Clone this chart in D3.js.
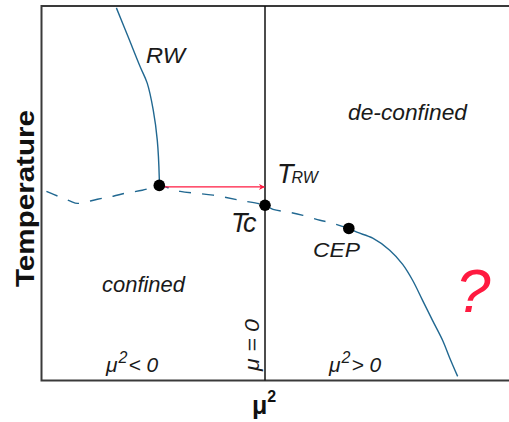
<!DOCTYPE html>
<html>
<head>
<meta charset="utf-8">
<script src="https://cdn.jsdelivr.net/npm/d3@7"></script>
<style>
  html, body { margin: 0; padding: 0; background: #fff; }
  svg { display: block; }
  text { font-family: "Liberation Sans", Arial, sans-serif; }
</style>
</head>
<body>
<svg id="chart" width="509" height="422"></svg>
<script>
// Phase diagram: temperature vs mu^2 (schematic units)
// Roberge-Weiss line (upper left)
const rwLineMu2  = [-0.665, -0.612, -0.558, -0.527, -0.500, -0.482, -0.473, -0.473];
const rwLineT    = [ 0.995,  0.917,  0.837,  0.794,  0.722,  0.642,  0.540,  0.521];

// Crossover (dashed) from the left edge through Tc to the critical end point
const crossMu2 = [-0.978, -0.946, -0.871, -0.839, -0.750, -0.679, -0.625, -0.549, -0.500, -0.473,
                  -0.424, -0.379, -0.232, -0.112, 0.000, 0.036, 0.112, 0.170, 0.246, 0.290, 0.375];
const crossT   = [ 0.505,  0.497,  0.479,  0.473,  0.484,  0.492,  0.500,  0.508,  0.516,  0.521,
                   0.513,  0.505,  0.495,  0.481, 0.468, 0.457, 0.449, 0.441, 0.428, 0.422, 0.406];

// First-order line beyond the CEP
const firstMu2 = [0.375, 0.411, 0.482, 0.558, 0.616, 0.661, 0.705, 0.750, 0.795, 0.826, 0.862];
const firstT   = [0.406, 0.396, 0.380, 0.348, 0.310, 0.267, 0.214, 0.160, 0.107, 0.061, 0.011];

// Marked points
const pointNames = ["RW endpoint", "Tc", "CEP"];
const pointMu2   = [-0.473, 0.000, 0.375];
const pointT     = [ 0.521, 0.468, 0.406];

// Arrow from the RW endpoint to T_RW on the mu = 0 axis
const arrowMu2 = [-0.463, -0.003];
const arrowT   = [ 0.517,  0.517];

const svg = d3.select("#chart");
const margin = { left: 41.5, top: 6, bottom: 41.5 };
const W = 509, H = 422;

const x = d3.scaleLinear().domain([-1, 1]).range([margin.left, 488.5]);
const y = d3.scaleLinear().domain([0, 1]).range([H - margin.bottom, margin.top]);

const blue = "#216891";
const red = "#ff1a40";

// Frame (left, top, bottom)
const frame = d3.path();
frame.moveTo(W + 2, y(1)); frame.lineTo(x(-1), y(1));
frame.lineTo(x(-1), y(0)); frame.lineTo(W + 2, y(0));
svg.append("path").attr("d", frame.toString())
  .attr("fill", "none").attr("stroke", "#3a3a3a").attr("stroke-width", 2);

// mu = 0 axis
svg.append("line")
  .attr("x1", x(0)).attr("x2", x(0))
  .attr("y1", y(1)).attr("y2", y(0))
  .attr("stroke", "#111").attr("stroke-width", 1.5);

const line = d3.line()
  .x(d => x(d[0])).y(d => y(d[1]))
  .curve(d3.curveCatmullRom.alpha(0.5));

svg.append("path")
  .datum(d3.zip(rwLineMu2, rwLineT))
  .attr("d", line)
  .attr("fill", "none").attr("stroke", blue).attr("stroke-width", 1.4);

svg.append("path")
  .datum(d3.zip(crossMu2, crossT))
  .attr("d", line)
  .attr("fill", "none").attr("stroke", blue).attr("stroke-width", 1.4)
  .attr("stroke-dasharray", "12,11");

svg.append("path")
  .datum(d3.zip(firstMu2, firstT))
  .attr("d", line)
  .attr("fill", "none").attr("stroke", blue).attr("stroke-width", 1.4);

// Arrow
svg.append("defs").append("marker")
  .attr("id", "arrowhead")
  .attr("viewBox", "0 0 10 10")
  .attr("refX", 9).attr("refY", 5)
  .attr("markerWidth", 8).attr("markerHeight", 6)
  .attr("markerUnits", "userSpaceOnUse")
  .attr("orient", "auto")
  .append("path")
  .attr("d", "M0,0 L10,5 L0,10 L3,5 Z")
  .attr("fill", red);

svg.append("line")
  .attr("x1", x(arrowMu2[0])).attr("y1", y(arrowT[0]))
  .attr("x2", x(arrowMu2[1])).attr("y2", y(arrowT[1]))
  .attr("stroke", red).attr("stroke-width", 1.4)
  .attr("marker-end", "url(#arrowhead)");

// Points
svg.selectAll("circle.pt")
  .data(d3.zip(pointMu2, pointT))
  .join("circle")
  .attr("class", "pt")
  .attr("cx", d => x(d[0])).attr("cy", d => y(d[1]))
  .attr("r", 5.8).attr("fill", "#000");

// Labels
const label = (txt, px, py, size, len) => {
  const t = svg.append("text")
    .attr("x", px).attr("y", py)
    .attr("font-size", size).attr("font-style", "italic")
    .attr("fill", "#1a1a1a")
    .text(txt);
  if (len) t.attr("textLength", len).attr("lengthAdjust", "spacingAndGlyphs");
  return t;
};

label("RW", 146, 63, 22, 39);
label("de-confined", 348, 120, 22.5, 119);
label("confined", 102, 292, 22, 83);
label("CEP", 313, 257, 20, 47);

// T_RW
const trw = svg.append("text").attr("x", 277).attr("y", 183)
  .attr("font-style", "italic").attr("fill", "#1a1a1a");
trw.append("tspan").attr("font-size", 27).text("T");
trw.append("tspan").attr("font-size", 16).attr("dx", -2).text("RW");

// Tc
svg.append("text").attr("x", 231).attr("y", 232)
  .attr("font-style", "italic").attr("fill", "#1a1a1a")
  .attr("font-size", 27).attr("letter-spacing", -2)
  .text("Tc");

// Region labels along the bottom
const regionLabel = (px, sym) => {
  const t = svg.append("text").attr("x", px).attr("y", 372)
    .attr("font-style", "italic").attr("fill", "#1a1a1a").attr("font-size", 21);
  t.append("tspan").text("μ");
  t.append("tspan").attr("font-size", 16).attr("dy", -9).attr("dx", 1).text("2");
  t.append("tspan").attr("dy", 9).attr("dx", 1).text(sym);
  return t;
};
regionLabel(106, "< 0");
regionLabel(329, "> 0");

// mu = 0 (vertical)
svg.append("text")
  .attr("transform", `translate(259,371) rotate(-90)`)
  .attr("font-size", 20).attr("font-style", "italic").attr("fill", "#1a1a1a")
  .attr("textLength", 52).attr("lengthAdjust", "spacingAndGlyphs")
  .text("μ = 0");

// Question mark
svg.append("text")
  .attr("x", 456).attr("y", 312)
  .attr("font-size", 62).attr("font-style", "italic")
  .attr("fill", red)
  .text("?");

// Axis titles
const xt = svg.append("text").attr("x", 252).attr("y", 414)
  .attr("font-weight", "bold").attr("font-size", 25).attr("fill", "#111");
xt.append("tspan").text("μ");
xt.append("tspan").attr("font-size", 16).attr("dy", -12).text("2");

svg.append("text")
  .attr("transform", "translate(34,287) rotate(-90)")
  .attr("font-weight", "bold").attr("font-size", 26).attr("fill", "#111")
  .attr("textLength", 177).attr("lengthAdjust", "spacingAndGlyphs")
  .text("Temperature");
</script>
</body>
</html>
